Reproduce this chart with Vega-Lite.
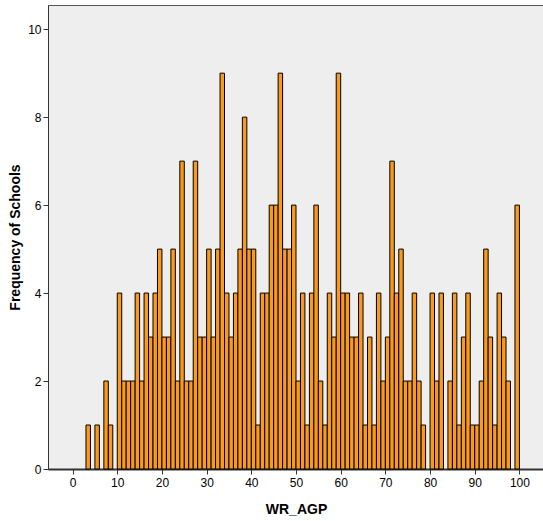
{
  "$schema": "https://vega.github.io/schema/vega-lite/v6.json",
  "width": 496,
  "height": 464,
  "autosize": {"type": "none"},
  "padding": {"left": 48, "top": 5, "right": 0, "bottom": 52},
  "background": "white",
  "config": {
    "font": "Liberation Sans",
    "view": {"fill": "#eeeeee", "stroke": "#555555", "strokeWidth": 1}
  },
  "data": {
    "values": [
      {"bin_start": 3, "bin_end": 4, "count": 1},
      {"bin_start": 5, "bin_end": 6, "count": 1},
      {"bin_start": 7, "bin_end": 8, "count": 2},
      {"bin_start": 8, "bin_end": 9, "count": 1},
      {"bin_start": 10, "bin_end": 11, "count": 4},
      {"bin_start": 11, "bin_end": 12, "count": 2},
      {"bin_start": 12, "bin_end": 13, "count": 2},
      {"bin_start": 13, "bin_end": 14, "count": 2},
      {"bin_start": 14, "bin_end": 15, "count": 4},
      {"bin_start": 15, "bin_end": 16, "count": 2},
      {"bin_start": 16, "bin_end": 17, "count": 4},
      {"bin_start": 17, "bin_end": 18, "count": 3},
      {"bin_start": 18, "bin_end": 19, "count": 4},
      {"bin_start": 19, "bin_end": 20, "count": 5},
      {"bin_start": 20, "bin_end": 21, "count": 3},
      {"bin_start": 21, "bin_end": 22, "count": 3},
      {"bin_start": 22, "bin_end": 23, "count": 5},
      {"bin_start": 23, "bin_end": 24, "count": 2},
      {"bin_start": 24, "bin_end": 25, "count": 7},
      {"bin_start": 25, "bin_end": 26, "count": 2},
      {"bin_start": 26, "bin_end": 27, "count": 2},
      {"bin_start": 27, "bin_end": 28, "count": 7},
      {"bin_start": 28, "bin_end": 29, "count": 3},
      {"bin_start": 29, "bin_end": 30, "count": 3},
      {"bin_start": 30, "bin_end": 31, "count": 5},
      {"bin_start": 31, "bin_end": 32, "count": 3},
      {"bin_start": 32, "bin_end": 33, "count": 5},
      {"bin_start": 33, "bin_end": 34, "count": 9},
      {"bin_start": 34, "bin_end": 35, "count": 4},
      {"bin_start": 35, "bin_end": 36, "count": 3},
      {"bin_start": 36, "bin_end": 37, "count": 4},
      {"bin_start": 37, "bin_end": 38, "count": 5},
      {"bin_start": 38, "bin_end": 39, "count": 8},
      {"bin_start": 39, "bin_end": 40, "count": 5},
      {"bin_start": 40, "bin_end": 41, "count": 5},
      {"bin_start": 41, "bin_end": 42, "count": 1},
      {"bin_start": 42, "bin_end": 43, "count": 4},
      {"bin_start": 43, "bin_end": 44, "count": 4},
      {"bin_start": 44, "bin_end": 45, "count": 6},
      {"bin_start": 45, "bin_end": 46, "count": 6},
      {"bin_start": 46, "bin_end": 47, "count": 9},
      {"bin_start": 47, "bin_end": 48, "count": 5},
      {"bin_start": 48, "bin_end": 49, "count": 5},
      {"bin_start": 49, "bin_end": 50, "count": 6},
      {"bin_start": 50, "bin_end": 51, "count": 2},
      {"bin_start": 51, "bin_end": 52, "count": 4},
      {"bin_start": 52, "bin_end": 53, "count": 1},
      {"bin_start": 53, "bin_end": 54, "count": 4},
      {"bin_start": 54, "bin_end": 55, "count": 6},
      {"bin_start": 55, "bin_end": 56, "count": 2},
      {"bin_start": 56, "bin_end": 57, "count": 1},
      {"bin_start": 57, "bin_end": 58, "count": 4},
      {"bin_start": 58, "bin_end": 59, "count": 3},
      {"bin_start": 59, "bin_end": 60, "count": 9},
      {"bin_start": 60, "bin_end": 61, "count": 4},
      {"bin_start": 61, "bin_end": 62, "count": 4},
      {"bin_start": 62, "bin_end": 63, "count": 3},
      {"bin_start": 63, "bin_end": 64, "count": 3},
      {"bin_start": 64, "bin_end": 65, "count": 4},
      {"bin_start": 65, "bin_end": 66, "count": 1},
      {"bin_start": 66, "bin_end": 67, "count": 3},
      {"bin_start": 67, "bin_end": 68, "count": 1},
      {"bin_start": 68, "bin_end": 69, "count": 4},
      {"bin_start": 69, "bin_end": 70, "count": 2},
      {"bin_start": 70, "bin_end": 71, "count": 3},
      {"bin_start": 71, "bin_end": 72, "count": 7},
      {"bin_start": 72, "bin_end": 73, "count": 4},
      {"bin_start": 73, "bin_end": 74, "count": 5},
      {"bin_start": 74, "bin_end": 75, "count": 2},
      {"bin_start": 75, "bin_end": 76, "count": 2},
      {"bin_start": 76, "bin_end": 77, "count": 4},
      {"bin_start": 77, "bin_end": 78, "count": 2},
      {"bin_start": 78, "bin_end": 79, "count": 1},
      {"bin_start": 80, "bin_end": 81, "count": 4},
      {"bin_start": 81, "bin_end": 82, "count": 2},
      {"bin_start": 82, "bin_end": 83, "count": 4},
      {"bin_start": 84, "bin_end": 85, "count": 2},
      {"bin_start": 85, "bin_end": 86, "count": 4},
      {"bin_start": 86, "bin_end": 87, "count": 1},
      {"bin_start": 87, "bin_end": 88, "count": 3},
      {"bin_start": 88, "bin_end": 89, "count": 4},
      {"bin_start": 89, "bin_end": 90, "count": 1},
      {"bin_start": 90, "bin_end": 91, "count": 1},
      {"bin_start": 91, "bin_end": 92, "count": 2},
      {"bin_start": 92, "bin_end": 93, "count": 5},
      {"bin_start": 93, "bin_end": 94, "count": 3},
      {"bin_start": 94, "bin_end": 95, "count": 1},
      {"bin_start": 95, "bin_end": 96, "count": 4},
      {"bin_start": 96, "bin_end": 97, "count": 3},
      {"bin_start": 97, "bin_end": 98, "count": 2},
      {"bin_start": 99, "bin_end": 100, "count": 6}
    ]
  },
  "mark": {"type": "bar", "fill": "#f99a1c", "stroke": "#000000", "strokeWidth": 1},
  "encoding": {
    "x": {
      "field": "bin_start",
      "type": "quantitative",
      "scale": {"domain": [-5.5, 105.5], "nice": false, "zero": false},
      "axis": {
        "values": [0, 10, 20, 30, 40, 50, 60, 70, 80, 90, 100],
        "title": "WR_AGP",
        "grid": false,
        "labelFontSize": 12,
        "labelColor": "#000000",
        "labelPadding": 3,
        "tickSize": 5,
        "tickColor": "#333333",
        "domainColor": "#333333",
        "domainWidth": 2,
        "titleFontSize": 14,
        "titleFontWeight": "bold",
        "titleColor": "#000000",
        "titlePadding": 14
      }
    },
    "x2": {"field": "bin_end"},
    "y": {
      "field": "count",
      "type": "quantitative",
      "scale": {"domain": [0, 10.55], "nice": false, "padding": 0},
      "axis": {
        "values": [0, 2, 4, 6, 8, 10],
        "title": "Frequency of Schools",
        "grid": false,
        "labelFontSize": 12,
        "labelColor": "#000000",
        "labelPadding": 2,
        "tickSize": 5,
        "tickColor": "#333333",
        "domainColor": "#333333",
        "titleFontSize": 14,
        "titleFontWeight": "bold",
        "titleColor": "#000000",
        "titlePadding": 5
      }
    },
    "y2": {"datum": 0}
  }
}
